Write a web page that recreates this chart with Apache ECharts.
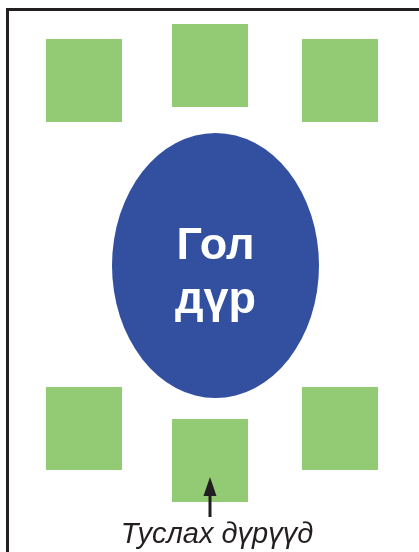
<!DOCTYPE html>
<html><head><meta charset="utf-8">
<script src="https://cdn.jsdelivr.net/npm/echarts@6/dist/echarts.min.js"></script>
<style>html,body{margin:0;padding:0;background:#fff}#c{width:419px;height:552px}</style>
</head><body><div id="c"></div>
<script>
// Diagram data (layout units on a 419 x 552 plane)
const mainLabel = 'Гол\nдүр';
const mainPos = [215.5, 265.5];
const roleX = [84, 210, 340, 84, 210, 340];
const roleY = [80.5, 65.5, 80.5, 428.5, 460.5, 428.5];
const caption = 'Туслах дүрүүд';
const captionPos = [217, 535];
const arrowFrom = [210, 517];
const arrowTo = [210, 477];

const chart = echarts.init(document.getElementById('c'), null, {renderer: 'canvas'});
chart.setOption({
  animation: false,
  grid: {left: 0, right: 0, top: 0, bottom: 0},
  xAxis: {type: 'value', min: 0, max: 419, show: false},
  yAxis: {type: 'value', min: 0, max: 552, inverse: true, show: false},
  graphic: [{
    type: 'rect', shape: {x: 7.5, y: 9.5, width: 600, height: 700},
    style: {fill: 'none', stroke: '#231f20', lineWidth: 3}, z: 100
  }],
  series: [
    {
      type: 'scatter', symbol: 'rect', symbolSize: [76, 83],
      itemStyle: {color: '#93cb74', opacity: 1},
      data: roleX.map((x, i) => [x, roleY[i]])
    },
    {
      type: 'scatter', symbol: 'circle', symbolSize: [207, 265],
      itemStyle: {color: '#3350a0', opacity: 1},
      label: {show: true, position: 'inside', formatter: () => mainLabel,
        color: '#fff', fontFamily: 'Liberation Sans, Arial, sans-serif', fontWeight: 'bold',
        fontSize: 45, lineHeight: 54, offset: [0, 8]},
      data: [mainPos]
    },
    {
      type: 'line', symbol: 'none', lineStyle: {color: '#231f20', width: 3},
      data: [arrowFrom, [arrowTo[0], arrowTo[1] + 14]]
    },
    {
      type: 'scatter', symbol: 'triangle', symbolSize: [13, 19],
      itemStyle: {color: '#231f20', opacity: 1},
      data: [[arrowTo[0], arrowTo[1] + 9.5]]
    },
    {
      type: 'scatter', symbolSize: 0, itemStyle: {opacity: 1},
      label: {show: true, position: 'inside', formatter: () => caption, opacity: 1,
        color: '#231f20', fontFamily: 'Liberation Sans, Arial, sans-serif', fontStyle: 'italic',
        fontSize: 29},
      data: [captionPos]
    }
  ]
});
</script></body></html>
